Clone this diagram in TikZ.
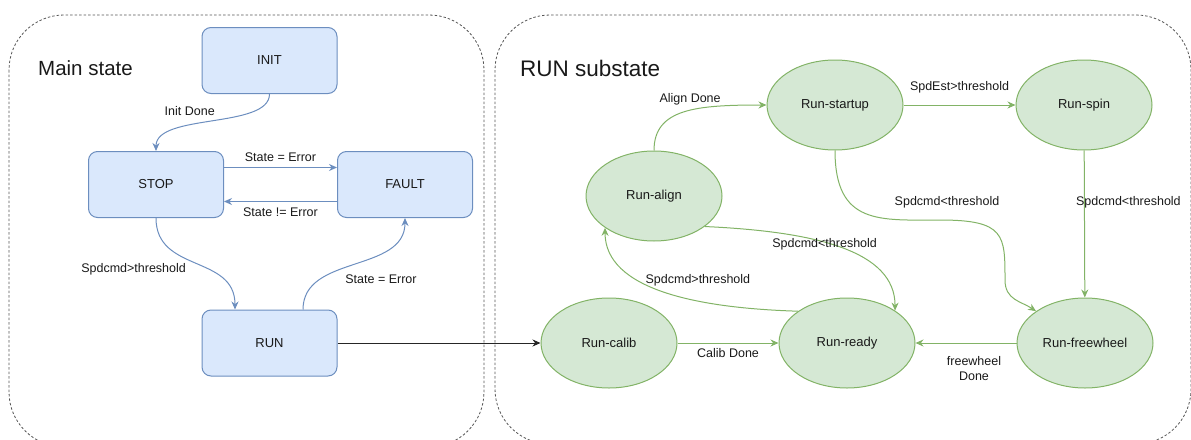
\documentclass[tikz,border=0pt]{standalone}
\usepackage{fontspec}
\setmainfont{Liberation Sans}
\usetikzlibrary{arrows.meta,positioning,shapes.geometric}
\definecolor{mainfill}{HTML}{DAE8FC}
\definecolor{maindraw}{HTML}{6C8EBF}
\definecolor{subfill}{HTML}{D5E8D4}
\definecolor{subdraw}{HTML}{82B366}
\definecolor{framegray}{HTML}{555555}

\begin{document}
\begin{tikzpicture}[
  x=1pt, y=-1pt,
  frame/.style={draw=framegray, dash pattern=on 2.5pt off 2pt, line width=0.8pt, rounded corners=55pt},
  title/.style={anchor=west, inner sep=0pt, text=black!90},
  box/.style={draw=maindraw, fill=mainfill, rounded corners=9pt, minimum width=135pt, minimum height=66pt, line width=1pt, font=\fontsize{13}{15}\selectfont, text=black!90},
  blob/.style={ellipse, draw=subdraw, fill=subfill, minimum width=136pt, minimum height=90pt, inner sep=0pt, line width=1pt, font=\fontsize{13}{15}\selectfont, text=black!90},
  arrow/.style={-{Stealth[length=8pt,width=7pt]}, line width=1pt, maindraw},
  garrow/.style={arrow, subdraw},
  link/.style={arrow, black!85},
  lbl/.style={font=\fontsize{12.5}{15}\selectfont, inner sep=1pt, align=center, text=black!90}
]
\useasboundingbox (0,0) rectangle (1191,439);
\draw[frame] (9,15) rectangle (484,447);
\draw[frame] (495,15) rectangle (1191,444);
\node[title, font=\fontsize{20.5}{24}\selectfont] (maintitle) at (38,68) {Main state};
\node[title, font=\fontsize{22.5}{26}\selectfont] (subtitle) at (520,68) {RUN substate};

\node[box] (init) at (269.5,60.5) {INIT};
\node[box] (stop) at (156,184.5) {STOP};
\node[box, right=113pt of stop] (fault) {FAULT};
\node[box] (run) at (269.5,343) {RUN};

\node[blob] (startup) at (835,105) {Run-startup};
\node[blob, right=112pt of startup] (spin) {Run-spin};
\node[blob] (align) at (654,196) {Run-align};
\node[blob] (calib) at (609,343) {Run-calib};
\node[blob, right=101pt of calib] (ready) {Run-ready};
\node[blob, right=101pt of ready] (freewheel) {Run-freewheel};

\draw[arrow] (init.south) .. controls +(0,35) and +(0,-38) .. node[lbl, xshift=-23pt, yshift=10pt] {Init Done} (stop.north);
\draw[arrow] ([yshift=17pt]stop.east) -- node[lbl, above=4pt] {State = Error} ([yshift=17pt]fault.west);
\draw[arrow] ([yshift=-17pt]fault.west) -- node[lbl, below=5pt] {State != Error} ([yshift=-17pt]stop.east);
\draw[arrow] (stop.south) .. controls +(0,55) and +(0,-55) .. node[lbl, pos=0.45, xshift=-56pt, yshift=-8pt] {Spdcmd>threshold} ([xshift=-34.5pt]run.north);
\draw[arrow] ([xshift=33.5pt]run.north) .. controls +(0,-55) and +(0,55) .. node[lbl, xshift=27pt, yshift=-15pt] {State = Error} (fault.south);
\draw[link] (run.east) -- (calib.west);

\draw[garrow] (align.north) .. controls +(0,-42) and +(-70,0) .. node[lbl, pos=0.55, above=4pt] {Align Done} (startup.west);
\draw[garrow] (startup) -- node[lbl, above=10pt] {SpdEst>threshold} (spin);
\draw[garrow] (spin) -- node[lbl, pos=0.35, xshift=44pt] {Spdcmd<threshold} (freewheel);
\draw[garrow] (startup.south) .. controls +(0,75) and +(-60,0) .. node[lbl, pos=1, above=10pt, xshift=7pt] {Spdcmd<threshold} (940,220)
  .. controls +(65,0) and +(0,-45) .. (1005,280) .. controls +(0,20) and +(-15,-10) .. (freewheel.147);
\draw[garrow] (ready.147) .. controls +(-100,-3) and +(0,62) .. node[lbl, pos=0.4, above=11pt, xshift=11pt] {Spdcmd>threshold} (align.213);
\draw[garrow] (align.-31) .. controls +(110,5) and +(0,-60) .. node[lbl, pos=0.45, xshift=-6pt] {Spdcmd<threshold} (ready.34);
\draw[garrow] (calib) -- node[lbl, below=4pt] {Calib Done} (ready);
\draw[garrow] (freewheel) -- node[lbl, below=12pt, xshift=8pt] {freewheel\\Done} (ready);
\end{tikzpicture}
\end{document}
